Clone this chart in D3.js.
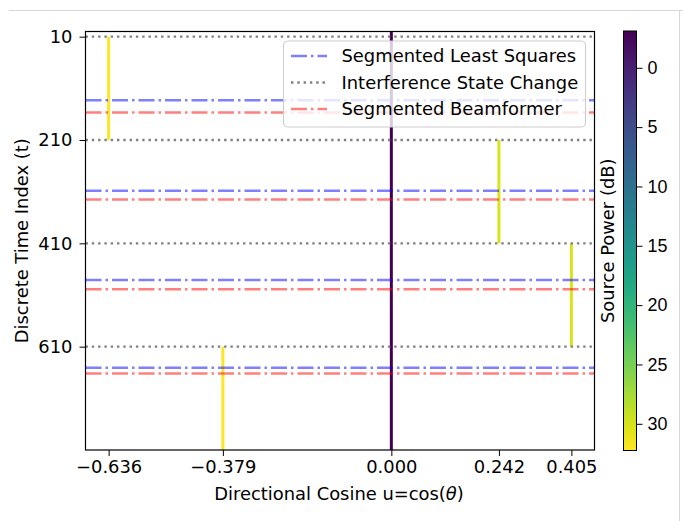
<!DOCTYPE html>
<html><head><meta charset="utf-8">
<script src="https://cdn.jsdelivr.net/npm/d3@7"></script>
<style>body{margin:0;background:#fff}svg{display:block;font-family:"DejaVu Sans",sans-serif}</style>
</head><body><svg id="c" width="683" height="521"></svg>
<script>
// ---- data ----
const xTicks = [-0.636, -0.379, 0.000, 0.242, 0.405];
const yTicks = [10, 210, 410, 610];
const cbTicks = [0, 5, 10, 15, 20, 25, 30];
const srcU     = [-0.636, 0.242, 0.405, -0.379, 0.000];
const srcStart = [10, 210, 410, 610, 0];
const srcEnd   = [210, 410, 610, 810, 810];
const srcPower = [32.2, 30.3, 30.3, 32.2, -3.1];
const stateChanges = [10, 210, 410, 610];
const lsChanges = [133, 308, 481, 651];
const bfChanges = [157, 325, 499, 662];
const legendLabels = ["Segmented Least Squares", "Interference State Change", "Segmented Beamformer"];
const powerRange = [-3.1, 32.25];

const svg = d3.select("#c");
const L = 85.5, R = 594.5, T = 31.5, B = 450;
const x = d3.scaleLinear().domain([-0.688, 0.457]).range([L, R]);
const y = d3.scaleLinear().domain([0, 810]).range([T, B]);
const cnorm = d3.scaleLinear().domain(powerRange).range([0, 1]);
const color = v => d3.interpolateViridis(cnorm(v));
const FS = 17.9;

// figure frame lines
svg.append("line").attr("x1", 9).attr("x2", 683).attr("y1", 10.5).attr("y2", 10.5).attr("stroke", "#d8d8d8");
svg.append("line").attr("x1", 679.5).attr("x2", 679.5).attr("y1", 10).attr("y2", 521).attr("stroke", "#d8d8d8");

const plot = svg.append("g");
plot.append("clipPath").attr("id", "clip").append("rect").attr("x", L).attr("y", T).attr("width", R - L).attr("height", B - T);
const g = plot.append("g").attr("clip-path", "url(#clip)");

// source tracks
g.selectAll(".src").data(srcU).join("line")
  .attr("x1", d => x(d)).attr("x2", d => x(d))
  .attr("y1", (d, i) => y(srcStart[i])).attr("y2", (d, i) => y(srcEnd[i]))
  .attr("stroke", (d, i) => color(srcPower[i])).attr("stroke-width", 3);

// horizontal lines
const dd = "16,4,2.5,4";
g.selectAll(".ls").data(lsChanges).join("line")
  .attr("x1", L).attr("x2", R).attr("y1", d => y(d)).attr("y2", d => y(d))
  .attr("stroke", "#0000ff").attr("stroke-opacity", 0.5).attr("stroke-width", 2.5).attr("stroke-dasharray", dd);
g.selectAll(".bf").data(bfChanges).join("line")
  .attr("x1", L).attr("x2", R).attr("y1", d => y(d)).attr("y2", d => y(d))
  .attr("stroke", "#ff0000").attr("stroke-opacity", 0.5).attr("stroke-width", 2.5).attr("stroke-dasharray", dd);
g.selectAll(".sc").data(stateChanges).join("line")
  .attr("x1", L).attr("x2", R).attr("y1", d => y(d)).attr("y2", d => y(d))
  .attr("stroke", "#808080").attr("stroke-width", 2.4).attr("stroke-dasharray", "2.4,3.9");

// axes
const xa = svg.append("g").attr("transform", `translate(0,${B})`)
  .call(d3.axisBottom(x).tickValues(xTicks).tickFormat(d3.format(".3f")).tickSizeOuter(0).tickSize(6).tickPadding(4));
const ya = svg.append("g").attr("transform", `translate(${L},0)`)
  .call(d3.axisLeft(y).tickValues(yTicks).tickFormat(d3.format("d")).tickSizeOuter(0).tickSize(6).tickPadding(7));
[xa, ya].forEach(a => {
  a.select(".domain").remove();
  a.selectAll("text").attr("font-size", FS).attr("font-family", "DejaVu Sans").attr("fill", "#000");
  a.selectAll("line").attr("stroke", "#000").attr("stroke-width", 1);
});
xa.selectAll("text").text(d => d3.format(".3f")(d).replace("-", "\u2212"));
svg.append("rect").attr("x", L).attr("y", T).attr("width", R - L).attr("height", B - T)
  .attr("fill", "none").attr("stroke", "#000").attr("stroke-width", 1.2);

// axis labels
const xl = svg.append("text").attr("x", (L + R) / 2 - 1).attr("y", 500).attr("text-anchor", "middle").attr("font-size", FS);
xl.append("tspan").text("Directional Cosine u=cos(");
xl.append("tspan").attr("font-style", "italic").text("\u03b8");
xl.append("tspan").text(")");
svg.append("text").attr("transform", `translate(28,${(T + B) / 2}) rotate(-90)`).attr("text-anchor", "middle")
  .attr("font-size", FS).text("Discrete Time Index (t)");

// legend
const lg = svg.append("g");
lg.append("rect").attr("x", 283.5).attr("y", 41).attr("width", 302).attr("height", 86).attr("rx", 4)
  .attr("fill", "#fff").attr("fill-opacity", 0.8).attr("stroke", "#cccccc");
const lstyles = [
  {c: "#0000ff", o: 0.5, da: dd, w: 2.5},
  {c: "#808080", o: 1, da: "2.4,3.9", w: 2.4},
  {c: "#ff0000", o: 0.5, da: dd, w: 2.5}
];
legendLabels.forEach((t, i) => {
  const yy = 56 + i * 26.5;
  lg.append("line").attr("x1", 291).attr("x2", 327).attr("y1", yy).attr("y2", yy)
    .attr("stroke", lstyles[i].c).attr("stroke-opacity", lstyles[i].o).attr("stroke-width", lstyles[i].w).attr("stroke-dasharray", lstyles[i].da);
  lg.append("text").attr("x", 341.5).attr("y", yy).attr("dy", "0.36em").attr("font-size", FS).text(t);
});

// colorbar
const CL = 623.5, CR = 636.5, CT = 31, CB = 450.5;
const cy = d3.scaleLinear().domain(powerRange).range([CT, CB]);
const defs = svg.append("defs");
const grad = defs.append("linearGradient").attr("id", "vg").attr("x1", 0).attr("x2", 0).attr("y1", 0).attr("y2", 1);
d3.range(0, 1.0001, 0.05).forEach(s => grad.append("stop").attr("offset", s).attr("stop-color", d3.interpolateViridis(s)));
svg.append("rect").attr("x", CL).attr("y", CT).attr("width", CR - CL).attr("height", CB - CT)
  .attr("fill", "url(#vg)").attr("stroke", "#000").attr("stroke-width", 1);
const ca = svg.append("g").attr("transform", `translate(${CR},0)`)
  .call(d3.axisRight(cy).tickValues(cbTicks).tickFormat(d3.format("d")).tickSizeOuter(0).tickSize(6).tickPadding(5));
ca.select(".domain").remove();
ca.selectAll("text").attr("font-size", FS).attr("fill", "#000");
ca.selectAll("line").attr("stroke", "#000");
svg.append("text").attr("transform", `translate(614,${(CT + CB) / 2}) rotate(-90)`).attr("text-anchor", "middle")
  .attr("font-size", FS).text("Source Power (dB)");
</script></body></html>
